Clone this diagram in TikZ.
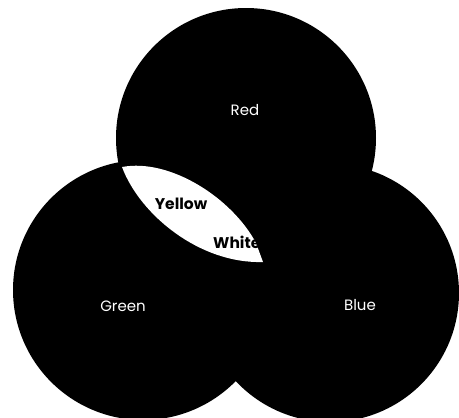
\documentclass[tikz,border=0pt]{standalone}
\usepackage{fontspec}
\setmainfont{Poppins}
\usetikzlibrary{positioning}
\definecolor{ink}{RGB}{0,0,0}
\definecolor{paper}{RGB}{255,255,255}
\tikzset{
  disc/.style={fill=ink},
  lens/.style={fill=paper},
  name lbl/.style={text=paper,font=\fontsize{15}{15}\selectfont,inner sep=0pt},
  mix lbl/.style={text=ink,font=\bfseries\fontsize{15.5}{15.5}\selectfont,inner sep=0pt}
}

\begin{document}
\begin{tikzpicture}[x=1pt,y=-1pt]
  \useasboundingbox[fill=paper] (0,0) rectangle (459,418);
  \clip (0,0) rectangle (459,418);
  \coordinate (red) at (246,138);
  \coordinate (green) at (143,290);
  \coordinate (blue) at (330,293);
  % the three primaries
  \fill[disc] (red) circle (130pt);
  \fill[disc] (green) circle (130pt);
  \fill[disc] (blue) circle (129pt);
  % red and green overlap, cut short by blue
  \coordinate (tipA) at (122,167);
  \coordinate (cutA) at (256,243);
  \coordinate (tipB) at (263,262);
  \fill[lens] (tipA) .. controls (170,158) and (232,198) .. (cutA)
              -- (tipB)
              .. controls (200,264) and (140,215) .. (tipA) -- cycle;
  \node[name lbl] (redlbl) at (245,110) {Red};
  \node[name lbl] (greenlbl) at (123,306) {Green};
  \node[name lbl] (bluelbl) at (360,305) {Blue};
  \node[mix lbl] (yellowlbl) at (181,204) {Yellow};
  \begin{scope}
    \clip (tipA) .. controls (170,158) and (232,198) .. (cutA)
          -- (tipB)
          .. controls (200,264) and (140,215) .. (tipA) -- cycle;
    \node[mix lbl,anchor=west] (whitelbl) at (213,242) {White};
  \end{scope}
\end{tikzpicture}
\end{document}
